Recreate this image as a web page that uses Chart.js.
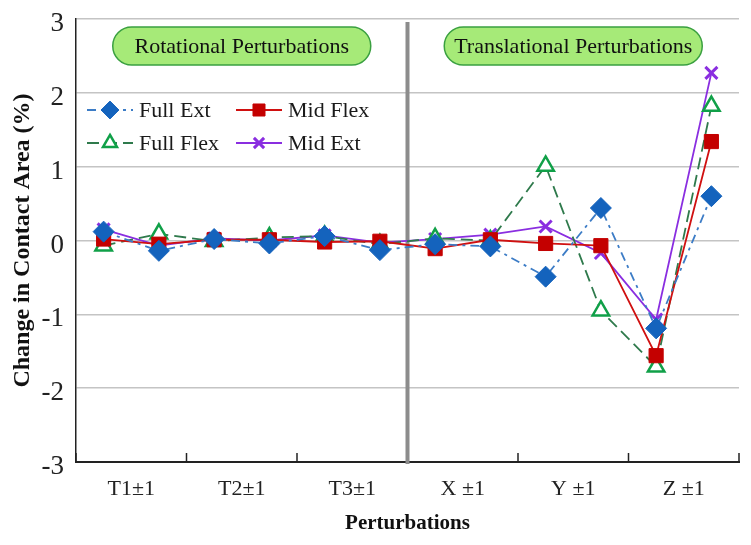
<!DOCTYPE html>
<html>
<head>
<meta charset="utf-8">
<script src="https://cdn.jsdelivr.net/npm/chart.js@4.4.1/dist/chart.umd.min.js"></script>
<style>
  html, body { margin: 0; padding: 0; background: #fff; }
  #wrap { width: 751px; height: 545px; position: relative; }
</style>
</head>
<body>
<div id="wrap"><canvas id="myChart" width="751" height="545"></canvas></div>
<script>
'use strict'
// categories (each one has a -1 and a +1 point)
var categories = ['T1\u00b11', 'T2\u00b11', 'T3\u00b11', 'X \u00b11', 'Y \u00b11', 'Z \u00b11'];
var yTicks = [-3, -2, -1, 0, 1, 2, 3];

// series values, 12 points each (T1-, T1+, T2-, T2+, ...)
var fullExt  = [0.12, -0.14, 0.02, -0.04, 0.06, -0.13, -0.05, -0.08, -0.49, 0.44, -1.19, 0.60];
var midFlex  = [0.02, -0.05, 0.01, 0.01, -0.02, -0.01, -0.11, 0.01, -0.04, -0.07, -1.56, 1.34];
var fullFlex = [-0.07, 0.09, -0.01, 0.04, 0.06, -0.05, 0.03, 0.00, 1.01, -0.95, -1.71, 1.82];
var midExt   = [0.15, -0.07, 0.03, 0.00, 0.07, -0.03, 0.02, 0.08, 0.19, -0.17, -1.07, 2.27];

var groupLabels = ['Rotational Perturbations', 'Translational Perturbations'];

function toPoints(arr) {
  var pts = [];
  for (var i = 0; i < arr.length; i++) {
    pts.push({ x: i + 0.5, y: arr[i] });
  }
  return pts;
}

var serif = "'Liberation Serif', 'Times New Roman', serif";

var datasets = [
  {
    label: 'Full Ext', data: toPoints(fullExt),
    borderColor: '#3c7cc6', borderWidth: 1.8, borderDash: [9, 5, 3, 5],
    pointStyle: 'rectRot', pointRadius: 10.5, pointBackgroundColor: '#1463bd', pointBorderColor: '#1463bd', pointBorderWidth: 1
  },
  {
    label: 'Mid Flex', data: toPoints(midFlex),
    borderColor: '#d01010', borderWidth: 1.8,
    pointStyle: 'rect', pointRadius: 10, pointBackgroundColor: '#c40000', pointBorderColor: '#c40000', pointBorderWidth: 1
  },
  {
    label: 'Full Flex', data: toPoints(fullFlex),
    borderColor: '#2f7a4c', borderWidth: 1.8, borderDash: [12, 6],
    pointStyle: 'triangle', pointRadius: 9.5, pointBackgroundColor: '#ffffff', pointBorderColor: '#10a048', pointBorderWidth: 2.5
  },
  {
    label: 'Mid Ext', data: toPoints(midExt),
    borderColor: '#8a2ee0', borderWidth: 1.8,
    pointStyle: 'crossRot', pointRadius: 8.5, pointBackgroundColor: '#8a2ee0', pointBorderColor: '#8a2ee0', pointBorderWidth: 3
  }
];

function roundRect(ctx, x, y, w, h, r) {
  ctx.beginPath();
  ctx.moveTo(x + r, y);
  ctx.lineTo(x + w - r, y);
  ctx.arcTo(x + w, y, x + w, y + r, r);
  ctx.lineTo(x + w, y + h - r);
  ctx.arcTo(x + w, y + h, x + w - r, y + h, r);
  ctx.lineTo(x + r, y + h);
  ctx.arcTo(x, y + h, x, y + h - r, r);
  ctx.lineTo(x, y + r);
  ctx.arcTo(x, y, x + r, y, r);
  ctx.closePath();
}

// divider, group boxes, inner tick marks and legend
var extras = {
  id: 'extras',
  beforeDatasetsDraw: function (chart) {
    var ctx = chart.ctx;
    var xs = chart.scales.x;
    var area = chart.chartArea;
    ctx.save();
    // group boxes
    for (var g = 0; g < groupLabels.length; g++) {
      var cx = xs.getPixelForValue(3 + g * 6);
      var w = 258, h = 38;
      roundRect(ctx, cx - w / 2, area.top + 8, w, h, 19);
      ctx.fillStyle = '#a6ea78';
      ctx.fill();
      ctx.lineWidth = 1.5;
      ctx.strokeStyle = '#3aa040';
      ctx.stroke();
      ctx.fillStyle = '#111';
      ctx.font = '22px ' + serif;
      ctx.textAlign = 'center';
      ctx.textBaseline = 'middle';
      ctx.fillText(groupLabels[g], cx, area.top + 8 + h / 2 + 1);
    }
    // divider
    var dx = xs.getPixelForValue(6);
    ctx.beginPath();
    ctx.moveTo(dx, area.top + 3);
    ctx.lineTo(dx, area.bottom + 2);
    ctx.lineWidth = 4;
    ctx.strokeStyle = '#8c8c8c';
    ctx.stroke();
    // tick marks pointing up from the x axis
    ctx.lineWidth = 1.5;
    ctx.strokeStyle = '#222';
    for (var t = 0; t <= 12; t += 2) {
      if (t === 6) continue;
      var tx = xs.getPixelForValue(t);
      ctx.beginPath();
      ctx.moveTo(tx, area.bottom);
      ctx.lineTo(tx, area.bottom - 9);
      ctx.stroke();
    }
    ctx.restore();
  },
  afterDatasetsDraw: function (chart) {
    var ctx = chart.ctx;
    ctx.save();
    var cols = [87, 236];
    var rows = [110, 143];
    for (var i = 0; i < datasets.length; i++) {
      var ds = datasets[i];
      var lx = cols[i % 2], ly = rows[Math.floor(i / 2)];
      ctx.beginPath();
      ctx.setLineDash(ds.borderDash || []);
      ctx.moveTo(lx, ly);
      ctx.lineTo(lx + 46, ly);
      ctx.lineWidth = ds.borderWidth;
      ctx.strokeStyle = ds.borderColor;
      ctx.stroke();
      ctx.setLineDash([]);
      ctx.fillStyle = ds.pointBackgroundColor;
      ctx.strokeStyle = ds.pointBorderColor;
      ctx.lineWidth = ds.pointBorderWidth;
      Chart.helpers.drawPoint(ctx, {
        pointStyle: ds.pointStyle,
        radius: ds.pointRadius * 0.85,
        rotation: 0,
        borderWidth: ds.pointBorderWidth
      }, lx + 23, ly);
      ctx.font = '22px ' + serif;
      ctx.fillStyle = '#1a1a1a';
      ctx.textAlign = 'left';
      ctx.textBaseline = 'middle';
      ctx.fillText(ds.label, lx + 52, ly + 1);
    }
    ctx.restore();
  }
};

var ctx = document.getElementById('myChart').getContext('2d');
var chart = new Chart(ctx, {
  type: 'line',
  data: { datasets: datasets },
  options: {
    responsive: false,
    animation: false,
    devicePixelRatio: 1,
    layout: { padding: { top: 19, right: 6, left: 0, bottom: 0 } },
    plugins: { legend: { display: false }, tooltip: { enabled: false } },
    scales: {
      x: {
        type: 'linear', min: 0, max: 12,
        afterBuildTicks: function (scale) {
          scale.ticks = categories.map(function (c, i) { return { value: i * 2 + 1 }; });
        },
        afterFit: function (scale) {
          scale.height = 83;
          scale.paddingLeft = 0;
          scale.paddingRight = 0;
        },
        ticks: {
          autoSkip: false, maxRotation: 0, padding: 14, color: '#222',
          font: { family: serif, size: 22 },
          callback: function (v) { return categories[(v - 1) / 2]; }
        },
        grid: { display: false, drawTicks: false },
        border: { display: true, color: '#222', width: 2 },
        title: {
          display: true, text: 'Perturbations', color: '#111',
          font: { family: serif, size: 21, weight: 'bold' },
          padding: { top: 0, bottom: 9 }
        }
      },
      y: {
        min: -3, max: 3,
        afterBuildTicks: function (scale) {
          scale.ticks = yTicks.map(function (v) { return { value: v }; });
        },
        afterFit: function (scale) {
          scale.width = 76;
          scale.paddingTop = 0;
          scale.paddingBottom = 0;
        },
        ticks: { padding: 12, labelOffset: 5, color: '#222', font: { family: serif, size: 27 } },
        grid: { color: '#c4c4c4', lineWidth: 1.5, drawTicks: false },
        border: { display: true, color: '#222', width: 1.5 },
        title: {
          display: true, text: 'Change in Contact Area (%)', color: '#111',
          font: { family: serif, size: 24, weight: 'bold' },
          padding: { top: 8, bottom: 0 }
        }
      }
    }
  },
  plugins: [extras]
});
</script>
</body>
</html>
